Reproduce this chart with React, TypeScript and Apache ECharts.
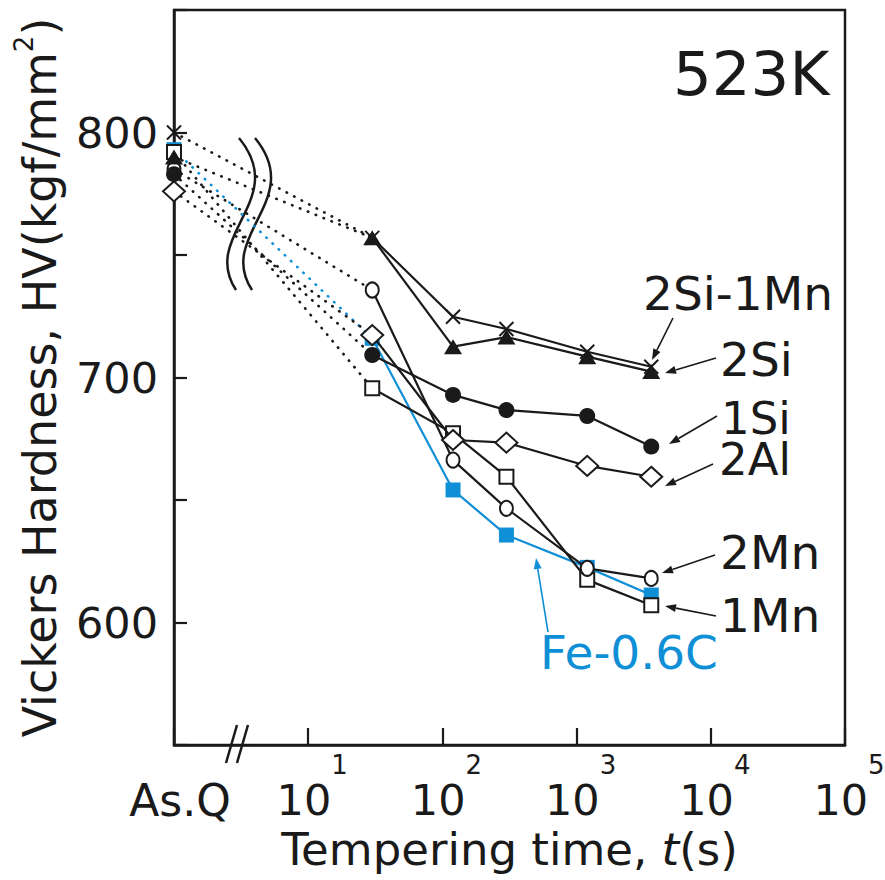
import React, { useEffect, useRef } from 'react';
import * as echarts from 'echarts';

// ---------- data ----------
const timesSec = [30, 120, 300, 1200, 3600];
const asQuenchedT = 1; // position of the "As.Q" column on the log axis
const yTickLabels = [600, 700, 800];

const seriesNames = ['2Si-1Mn', '2Si', '1Si', '2Al', '2Mn', '1Mn', 'Fe-0.6C'];

const asQ_2Si1Mn = 800;
const asQ_2Si = 790;
const asQ_1Si = 783;
const asQ_2Al = 776;
const asQ_2Mn = 785;
const asQ_1Mn = 792;
const asQ_Fe = 793;

const hv_2Si1Mn = [757, 724.8, 719.8, 710.5, 704.4];
const hv_2Si = [757, 712.6, 716.5, 708.5, 702.4];
const hv_1Si = [709.2, 692.9, 686.7, 684.3, 671.8];
const hv_2Al = [717.3, 674.5, 673.4, 663.9, 659.5];
const hv_2Mn = [735.7, 666.3, 646.6, 622.1, 618];
const hv_1Mn = [695.6, 677.2, 659.5, 617.4, 607];
const hv_Fe = [716, 654.1, 635.7, 622.5, 611.2];

// ---------- styles ----------
const INK = '#1a1a1a';
const BLUE = '#0f8fd6';
const FONT = '"DejaVu Sans", "Liberation Sans", sans-serif';

type Alloy = {
  name: string;
  asq: number;
  hv: number[];
  color: string;
  symbol: string;
  size: number | number[];
  fill: string;
  border: number;
};

const alloys: Alloy[] = [
  { name: seriesNames[6], asq: asQ_Fe, hv: hv_Fe, color: BLUE, symbol: 'rect', size: 15, fill: BLUE, border: 0 },
  { name: seriesNames[5], asq: asQ_1Mn, hv: hv_1Mn, color: INK, symbol: 'rect', size: 14, fill: '#ffffff', border: 2 },
  { name: seriesNames[4], asq: asQ_2Mn, hv: hv_2Mn, color: INK, symbol: 'circle', size: [13, 15], fill: '#ffffff', border: 2 },
  { name: seriesNames[3], asq: asQ_2Al, hv: hv_2Al, color: INK, symbol: 'diamond', size: [22, 20], fill: '#ffffff', border: 2 },
  { name: seriesNames[2], asq: asQ_1Si, hv: hv_1Si, color: INK, symbol: 'circle', size: 16, fill: INK, border: 0 },
  { name: seriesNames[1], asq: asQ_2Si, hv: hv_2Si, color: INK, symbol: 'triangle', size: [18, 15], fill: INK, border: 0 },
  { name: seriesNames[0], asq: asQ_2Si1Mn, hv: hv_2Si1Mn, color: INK, symbol: 'path://M0,0L10,10M10,0L0,10', size: 14, fill: 'none', border: 2 },
];

function arrow(x1: number, y1: number, x2: number, y2: number, color: string) {
  const ang = Math.atan2(y2 - y1, x2 - x1);
  const L = 11;
  const W = 4;
  const bx = x2 - L * Math.cos(ang);
  const by = y2 - L * Math.sin(ang);
  const px = -Math.sin(ang) * W;
  const py = Math.cos(ang) * W;
  return [
    { type: 'line', silent: true, shape: { x1, y1, x2: bx, y2: by }, style: { stroke: color, lineWidth: 1.6 } },
    { type: 'polygon', silent: true, shape: { points: [[x2, y2], [bx + px, by + py], [bx - px, by - py]] }, style: { fill: color } },
  ];
}

function label(text: string, x: number, y: number, color: string, size = 47) {
  return {
    type: 'text',
    silent: true,
    x,
    y,
    style: {
      text,
      fill: color,
      fontSize: size,
      fontFamily: FONT,
      align: 'left',
      verticalAlign: 'middle',
      lineHeight: Math.round(size * 0.76),
    },
  };
}

function breakCurve(dx: number) {
  return {
    type: 'bezierCurve',
    silent: true,
    shape: { x1: 239 + dx, y1: 138, cpx1: 290 + dx, cpy1: 200, cpx2: 200 + dx, cpy2: 235, x2: 236 + dx, y2: 290 },
    style: { stroke: INK, lineWidth: 2.5, fill: 'none' },
  };
}

export default function App() {
  const ref = useRef<HTMLDivElement>(null);

  useEffect(() => {
    if (!ref.current) return;
    const chart = echarts.init(ref.current, undefined, { renderer: 'svg' });

    const series: any[] = [];
    alloys.forEach((a, idx) => {
      const itemStyle = { color: a.fill, borderColor: a.color, borderWidth: a.border };
      series.push({
        type: 'line',
        name: a.name + ' (dotted)',
        data: [[asQuenchedT, a.asq], [timesSec[0], a.hv[0]]],
        symbol: (_v: any, p: any) => (p.dataIndex === 0 ? a.symbol : 'none'),
        symbolSize: a.size,
        showAllSymbol: true,
        itemStyle,
        lineStyle: { color: a.color, width: 2.6, type: [0.5, 8], cap: 'round' },
        z: 2 + idx,
        silent: true,
      });
      series.push({
        type: 'line',
        name: a.name,
        data: timesSec.map((t, i) => [t, a.hv[i]]),
        symbol: a.symbol,
        symbolSize: a.size,
        showAllSymbol: true,
        itemStyle,
        lineStyle: { color: a.color, width: 2.2 },
        z: 10 + idx,
        silent: true,
      });
    });

    const graphic: any[] = [
      breakCurve(0),
      breakCurve(16),
      { type: 'line', silent: true, shape: { x1: 226, y1: 763, x2: 237, y2: 725 }, style: { stroke: INK, lineWidth: 2.5 } },
      { type: 'line', silent: true, shape: { x1: 237, y1: 763, x2: 248, y2: 725 }, style: { stroke: INK, lineWidth: 2.5 } },
      label('523K', 673, 73, INK, 61),
      label(seriesNames[0], 643, 293, INK),
      label(seriesNames[1], 720, 359, INK),
      label(seriesNames[2], 721, 418, INK, 45),
      label(seriesNames[3], 719, 459, INK, 45),
      label(seriesNames[4], 720, 552, INK),
      label(seriesNames[5], 720, 615, INK),
      label(seriesNames[6], 540, 652, BLUE),
      ...arrow(673, 318, 652, 360, INK),
      ...arrow(716, 358, 665, 373, INK),
      ...arrow(717, 416, 669, 444, INK),
      ...arrow(713, 464, 665, 486, INK),
      ...arrow(715, 555, 662, 573, INK),
      ...arrow(716, 616, 665, 606, INK),
      ...arrow(548, 632, 536, 558, BLUE),
    ];

    chart.setOption({
      animation: false,
      backgroundColor: '#ffffff',
      grid: {
        left: 174,
        top: 10,
        width: 671,
        height: 735,
        containLabel: false,
        outerBoundsMode: 'none',
        show: true,
        borderColor: INK,
        borderWidth: 2.5,
        backgroundColor: 'transparent',
      },
      xAxis: {
        type: 'log',
        logBase: 10,
        min: 1,
        max: 100000,
        axisLine: { show: true, lineStyle: { color: INK, width: 2.5 } },
        axisTick: { show: true, inside: true, length: 17, lineStyle: { color: INK, width: 2.2 } },
        splitLine: { show: false },
        minorTick: { show: false },
        axisLabel: {
          margin: 7,
          color: INK,
          fontFamily: FONT,
          showMinLabel: true,
          showMaxLabel: true,
          hideOverlap: false,
          formatter: (v: number) => {
            const e = Math.round(Math.log10(v));
            if (e === 0) return '{q|As.Q}';
            return `{p| }{b|10}{s|${e}}`;
          },
          rich: {
            q: { fontSize: 44, fontFamily: FONT, color: INK, padding: [26, 0, 0, 12] },
            p: { fontSize: 20, width: 8, fontFamily: FONT },
            b: { fontSize: 43, fontFamily: FONT, color: INK, verticalAlign: 'bottom' },
            s: { fontSize: 26, fontFamily: FONT, color: INK, verticalAlign: 'top', padding: [0, 0, 43, 0] },
          },
        },
        name: '{t|Tempering time, }{i|t}{t|(s)}',
        nameLocation: 'middle',
        nameGap: 76,
        nameTextStyle: {
          color: INK,
          fontFamily: FONT,
          fontSize: 45,
          rich: {
            t: { fontSize: 45, fontFamily: FONT, color: INK },
            i: { fontSize: 45, fontFamily: FONT, color: INK, fontStyle: 'italic' },
          },
        },
      },
      yAxis: {
        type: 'value',
        min: 550,
        max: 850,
        interval: 50,
        axisLine: { show: true, lineStyle: { color: INK, width: 2.5 } },
        axisTick: { show: true, inside: true, length: 13, lineStyle: { color: INK, width: 2.2 } },
        splitLine: { show: false },
        axisLabel: {
          margin: 16,
          color: INK,
          fontFamily: FONT,
          fontSize: 43,
          formatter: (v: number) => (yTickLabels.indexOf(v) >= 0 ? String(v) : ''),
        },
        name: '{t|Vickers Hardness, HV(kgf/mm}{s|2}{t|)}',
        nameLocation: 'middle',
        nameRotate: 90,
        nameGap: 111,
        nameTextStyle: {
          color: INK,
          fontFamily: FONT,
          fontSize: 46,
          rich: {
            t: { fontSize: 46, fontFamily: FONT, color: INK, verticalAlign: 'bottom' },
            s: { fontSize: 26, fontFamily: FONT, color: INK, verticalAlign: 'top', padding: [0, 0, 26, 0] },
          },
        },
      },
      series,
      graphic,
    });

    return () => {
      chart.dispose();
    };
  }, []);

  return (
    <div
      ref={ref}
      style={{ position: 'absolute', left: 0, top: 0, width: 885, height: 880, background: '#ffffff' }}
    />
  );
}
